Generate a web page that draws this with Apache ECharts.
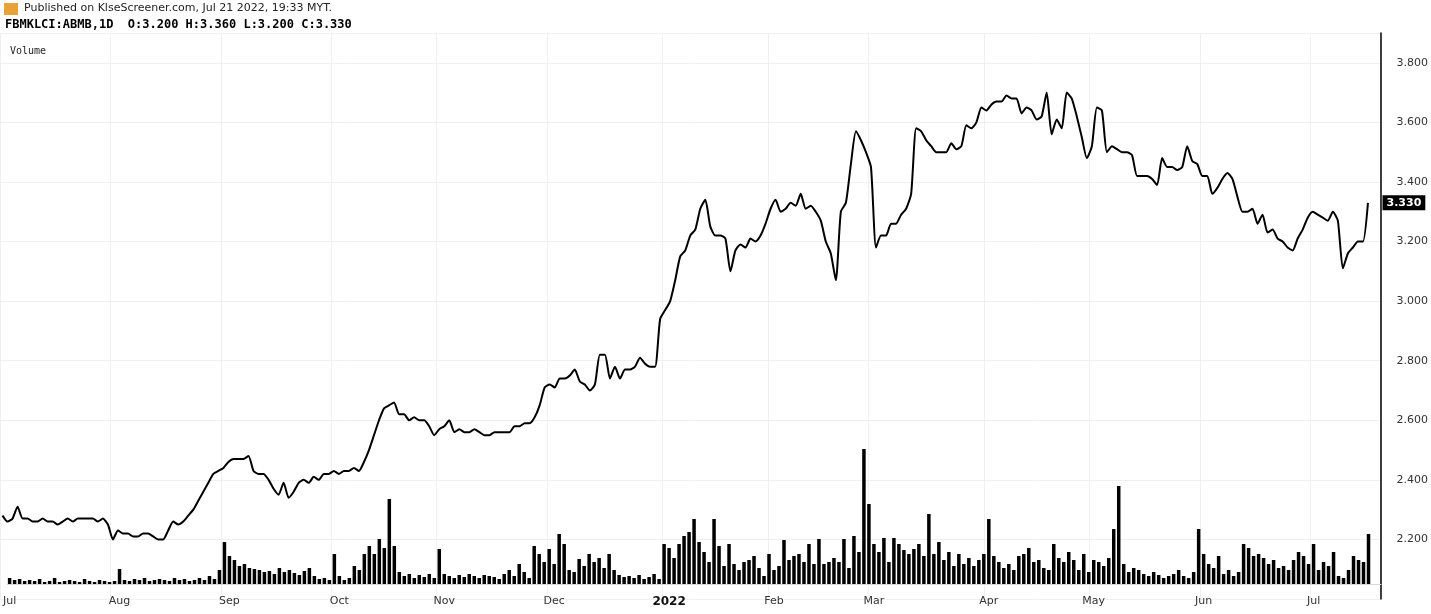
<!DOCTYPE html>
<html>
<head>
<meta charset="utf-8">
<script src="https://cdn.jsdelivr.net/npm/echarts@6/dist/echarts.min.js"></script>
<style>
html,body{margin:0;padding:0;background:#fff}
#main{width:1431px;height:614px}
</style>
</head>
<body>
<div id="main"></div>
<script>
// daily close, Jul 2021 - Jul 21 2022
var closes = [
 2.28,2.26,2.27,2.31,2.27,2.27,2.26,2.26,2.27,2.26,2.26,2.25,2.26,2.27,2.26,2.27,2.27,2.27,2.27,2.26,2.27,2.25,
 2.20,2.23,2.22,2.22,2.21,2.21,2.22,2.22,2.21,2.20,2.20,2.23,2.26,2.25,2.26,2.28,2.30,2.33,2.36,2.39,2.42,
 2.43,2.44,2.46,2.47,2.47,2.47,2.48,2.43,2.42,2.42,2.40,2.37,2.35,2.39,2.34,2.36,2.39,2.40,2.39,2.41,2.40,2.42,
 2.42,2.43,2.42,2.43,2.43,2.44,2.43,2.46,2.50,2.55,2.60,2.64,2.65,2.66,2.62,2.62,2.60,2.61,2.60,2.60,2.58,
 2.55,2.57,2.58,2.60,2.56,2.57,2.56,2.56,2.57,2.56,2.55,2.55,2.56,2.56,2.56,2.56,2.58,2.58,2.59,2.59,2.61,2.65,
 2.71,2.72,2.71,2.74,2.74,2.75,2.77,2.73,2.72,2.70,2.72,2.82,2.82,2.74,2.78,2.74,2.77,2.77,2.78,2.81,2.79,2.78,2.78,
 2.94,2.97,3.00,3.07,3.15,3.17,3.22,3.24,3.31,3.34,3.25,3.22,3.22,3.21,3.10,3.17,3.19,3.18,3.21,3.20,3.22,
 3.26,3.31,3.34,3.30,3.31,3.33,3.32,3.36,3.31,3.32,3.30,3.27,3.20,3.16,3.07,3.30,3.33,3.46,3.57,3.54,3.50,
 3.45,3.18,3.22,3.22,3.26,3.26,3.29,3.31,3.36,3.58,3.57,3.54,3.52,3.50,3.50,3.50,3.53,3.51,3.52,3.59,3.58,3.60,3.65,
 3.64,3.66,3.67,3.67,3.69,3.68,3.68,3.63,3.65,3.64,3.61,3.62,3.70,3.56,3.61,3.58,3.70,3.68,3.62,3.55,3.48,
 3.52,3.65,3.64,3.50,3.52,3.51,3.50,3.50,3.49,3.42,3.42,3.42,3.41,3.39,3.48,3.45,3.45,3.44,3.45,3.52,3.47,
 3.46,3.42,3.42,3.36,3.38,3.41,3.43,3.41,3.35,3.30,3.30,3.31,3.26,3.29,3.23,3.24,3.21,3.20,3.18,3.17,3.21,3.24,
 3.28,3.30,3.29,3.28,3.27,3.30,3.27,3.11,3.16,3.18,3.20,3.20,3.33
];
var volumes = [
 6,4,5,3,4,3,5,2,3,6,2,3,4,3,2,5,3,2,4,3,2,3,
 15,4,3,5,4,6,3,4,5,4,3,6,4,5,3,4,6,4,8,5,14,
 42,28,24,18,20,16,15,14,12,13,10,16,12,14,11,9,13,16,8,5,6,4,
 30,8,4,6,18,14,30,38,30,45,36,85,38,12,8,10,6,9,7,10,6,
 35,10,8,6,9,7,10,8,6,9,8,7,5,10,14,8,20,12,6,38,30,22,
 35,20,50,40,14,12,25,18,30,22,26,16,30,14,9,7,8,6,9,5,7,10,5,
 40,36,26,40,48,52,65,42,32,22,65,38,18,40,20,14,22,24,28,16,8,
 30,14,18,44,24,28,30,22,40,20,45,20,22,26,22,45,16,48,32,135,80,
 40,32,46,22,46,40,34,30,35,40,28,70,30,42,24,32,18,30,20,26,18,24,30,
 65,28,22,16,20,14,28,30,36,22,24,16,14,40,26,22,32,24,14,30,12,
 24,22,18,26,55,98,20,12,16,14,10,8,12,9,6,8,10,14,8,6,12,
 55,30,20,16,28,10,14,8,12,40,36,28,30,26,20,24,16,18,14,24,32,28,
 20,40,14,22,18,32,8,6,14,28,24,22,50
];
var monthNames = ['Jan','Feb','Mar','Apr','May','Jun','Jul','Aug','Sep','Oct','Nov','Dec'];
var padDays = 2; // empty slots right of last bar

var dates = [];
var d = new Date(2021, 6, 1);
while (dates.length < closes.length + padDays) {
  var wd = d.getDay();
  if (wd != 0 && wd != 6) dates.push(new Date(d.getTime()));
  d.setDate(d.getDate() + 1);
}
var cats = dates.map(function (x) { return x.getFullYear() + '-' + (x.getMonth() + 1) + '-' + x.getDate(); });
var firstOfMonth = {};
for (var i = 0; i < closes.length; i++) {
  if (i == 0 || dates[i].getMonth() != dates[i - 1].getMonth()) firstOfMonth[i] = true;
}
function monthLabel(idx) {
  var m = dates[idx].getMonth();
  return m == 0 ? '{b|' + dates[idx].getFullYear() + '}' : monthNames[m];
}

var chart = echarts.init(document.getElementById('main'));
chart.setOption({
  animation: false,
  textStyle: { fontFamily: 'DejaVu Sans' },
  graphic: [
    { type: 'text', left: 24, top: 3, style: { text: 'Published on KlseScreener.com, Jul 21 2022, 19:33 MYT.', font: '11px DejaVu Sans', fill: '#222' } },
    { type: 'rect', left: 4, top: 3, shape: { width: 14, height: 12 }, style: { fill: '#e8a23a' } },
    { type: 'text', left: 5, top: 19, style: { text: 'FBMKLCI:ABMB,1D  O:3.200 H:3.360 L:3.200 C:3.330', font: 'bold 12px DejaVu Sans Mono', fill: '#000' } },
    { type: 'text', left: 10, top: 46, style: { text: 'Volume', font: '10px DejaVu Sans Mono', fill: '#222' } }
  ],
  grid: [
    { left: 0, right: 50, top: 33, bottom: 15 },
    { left: 0, right: 50, top: 440, bottom: 30 }
  ],
  xAxis: [
    { type: 'category', gridIndex: 0, data: cats, boundaryGap: true, axisLine: { show: false }, axisTick: { show: false }, axisLabel: { show: false },
      splitLine: { show: true, interval: function (i) { return !!firstOfMonth[i]; }, lineStyle: { color: '#f0f0f0' } } },
    { type: 'category', gridIndex: 1, data: cats, boundaryGap: true,
      axisLine: { show: true, lineStyle: { color: '#d8d8d8' } }, axisTick: { show: false },
      axisLabel: { interval: function (i) { return !!firstOfMonth[i]; }, formatter: function (v, i) { return monthLabel(i); },
        color: '#333', fontSize: 11, margin: 12, rich: { b: { fontWeight: 'bold', fontSize: 12, color: '#111' } } } }
  ],
  yAxis: [
    { type: 'value', gridIndex: 0, position: 'right', min: 2.0, max: 3.9, interval: 0.2,
      axisLine: { show: true, lineStyle: { color: '#000', width: 1.5 } }, axisTick: { show: false },
      axisLabel: { color: '#333', fontSize: 11, margin: 16, formatter: function (v) { return v < 2.1 || v > 3.85 ? '' : v.toFixed(3); } },
      splitLine: { show: true, lineStyle: { color: '#f0f0f0' } } },
    { type: 'value', gridIndex: 1, min: 0, max: 144, show: false, splitLine: { show: false } }
  ],
  series: [
    { type: 'bar', xAxisIndex: 1, yAxisIndex: 1, data: volumes, barWidth: '70%', itemStyle: { color: '#000' } },
    { type: 'line', xAxisIndex: 0, yAxisIndex: 0, data: closes, symbol: 'none', smooth: 0.2, clip: false,
      lineStyle: { color: '#000', width: 2 },
      markLine: { symbol: 'none', silent: true, lineStyle: { color: 'rgba(0,0,0,0)', width: 0 },
        data: [{ yAxis: 3.33 }],
        label: { show: true, position: 'end', distance: 2, formatter: '3.330', color: '#fff', backgroundColor: '#000', padding: [2, 4], fontSize: 11, fontWeight: 'bold' } } }
  ]
});
</script>
</body>
</html>
